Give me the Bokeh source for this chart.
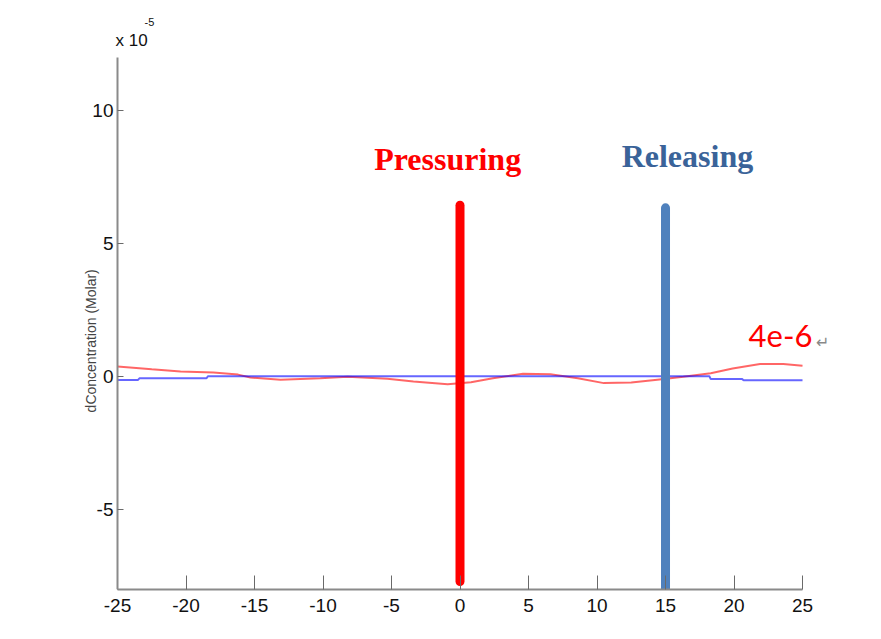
import math
from bokeh.plotting import figure
from bokeh.models import Range1d, FixedTicker, Label
from bokeh.embed import file_html
from bokeh.resources import INLINE

# ---- data (y in units of 1e-5 Molar) ----
red_x = [-25, -22.5, -20.4, -18, -16.2, -15.3, -13.1, -10.2, -8.2, -5.3, -3.4, -0.9, 0.8, 2.4, 4.6, 6.6, 8.6, 10.5, 12.5, 14.4, 16.3, 18.3, 19.9, 21.9, 23.6, 25]
red_y = [0.38, 0.28, 0.20, 0.16, 0.08, -0.03, -0.11, -0.06, 0.0, -0.08, -0.18, -0.28, -0.21, -0.06, 0.11, 0.09, -0.06, -0.24, -0.22, -0.11, 0.0, 0.13, 0.31, 0.48, 0.48, 0.41]

blue_x = [-25, -23.5, -23.4, -18.5, -18.4, 18.2, 18.3, 20.6, 20.7, 25]
blue_y = [-0.12, -0.12, -0.06, -0.06, 0.02, 0.02, -0.09, -0.09, -0.13, -0.13]

marker_x = [0, 15]
marker_bottom = [-7.7, -7.95]
marker_top = [6.45, 6.35]
marker_colors = ["#FF0000", "#4F81BD"]
marker_names = ["Pressuring", "Releasing"]

x_ticks = [-25, -20, -15, -10, -5, 0, 5, 10, 15, 20, 25]
x_tick_labels = ["-25", "-20", "-15", "-10", "-5", "0", "5", "10", "15", "20", "25"]
y_ticks = [-5, 0, 5, 10]
y_tick_labels = ["-5", "0", "5", "10"]

X_MIN, X_MAX = -25, 25
Y_MIN, Y_MAX = -8, 12

TICK_FONT = "Liberation Sans Narrow, Liberation Sans, Arial, sans-serif"

# frame is a little larger than the axes so that annotations outside the axes are not clipped
p = figure(width=857, height=632, x_range=Range1d(-27.628, 27.554), y_range=Range1d(-8, 13.92),
           output_backend="svg", toolbar_location=None,
           min_border_left=81, min_border_right=20, min_border_top=6, min_border_bottom=43)
p.outline_line_color = None
p.grid.visible = False

p.xaxis.bounds = (X_MIN, X_MAX)
p.yaxis.bounds = (Y_MIN, Y_MAX)
p.yaxis.fixed_location = X_MIN

for ax, ticks, labels, tin in ((p.xaxis[0], x_ticks, x_tick_labels, 14), (p.yaxis[0], y_ticks, y_tick_labels, 6)):
    ax.ticker = FixedTicker(ticks=ticks)
    ax.major_label_overrides = {float(t): l for t, l in zip(ticks, labels)}
    ax.axis_line_color = "#8a8a8a"
    ax.axis_line_width = 2
    ax.major_tick_line_color = "#6a6a6a"
    ax.major_tick_in = tin
    ax.major_tick_out = 0
    ax.minor_tick_line_color = None
    ax.major_label_text_font = TICK_FONT
    ax.major_label_text_font_size = "19px"
    ax.major_label_text_color = "#111111"
p.xaxis.major_label_standoff = 9
p.yaxis.major_label_standoff = 4

# data lines
p.line(red_x, red_y, line_color="#FF0000", line_alpha=0.6, line_width=2)
p.line(blue_x, blue_y, line_color="#0000FF", line_alpha=0.6, line_width=2)

# event markers
for xv, b, t, c in zip(marker_x, marker_bottom, marker_top, marker_colors):
    p.segment(x0=[xv], y0=[b], x1=[xv], y1=[t], line_color=c, line_width=9, line_cap="round")

p.add_layout(Label(x=-0.9, y=8.2, text=marker_names[0], text_align="center", text_baseline="alphabetic",
                   text_font="Liberation Serif, Times New Roman, serif", text_font_style="bold",
                   text_font_size="32px", text_color="#FF0000"))
p.add_layout(Label(x=16.6, y=8.31, text=marker_names[1], text_align="center", text_baseline="alphabetic",
                   text_font="Liberation Serif, Times New Roman, serif", text_font_style="bold",
                   text_font_size="32px", text_color="#3A6399"))
p.add_layout(Label(x=21.06, y=1.55, text="4e-6", text_align="left", text_baseline="alphabetic",
                   text_font="Lato", text_font_size="31px", text_color="#FF0000"))
p.add_layout(Label(x=25.98, y=1.3, text="\u21b5", text_align="left", text_baseline="alphabetic",
                   text_font="DejaVu Sans", text_font_size="16px", text_color="#888888"))

# multiplier and axis title
p.add_layout(Label(x=-25.15, y=12.63, text="x 10", text_align="left", text_baseline="alphabetic",
                   text_font=TICK_FONT, text_font_size="17px", text_color="#111111"))
p.add_layout(Label(x=-23.03, y=13.34, text="-5", text_align="left", text_baseline="alphabetic",
                   text_font=TICK_FONT, text_font_size="11px", text_color="#111111"))
p.add_layout(Label(x=-26.97, y=1.35, text="dConcentration (Molar)", angle=math.pi / 2,
                   text_align="center", text_baseline="middle",
                   text_font="Liberation Sans, Arial, sans-serif", text_font_size="14px", text_color="#444444"))

open("out.html", "w").write(file_html(p, INLINE))
